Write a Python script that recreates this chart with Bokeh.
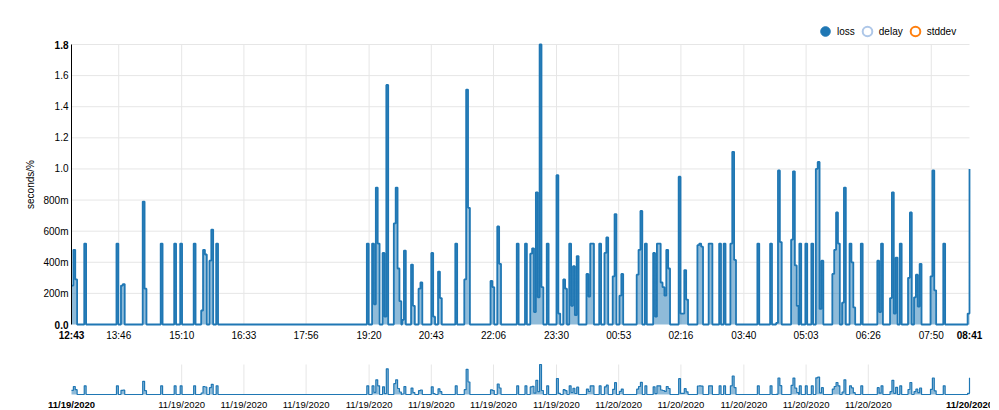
from bokeh.plotting import figure
from bokeh.models import (Range1d, FixedTicker, CustomJSTickFormatter, Label,
                          Legend, LegendItem, ColumnDataSource, LinearAxis)
from bokeh.layouts import column
from bokeh.embed import file_html
from bokeh.resources import INLINE

# ---------------- data ----------------
END_MIN = 1198          # 12:43 -> 08:41 (minutes since start)
STEP = 2.5              # sample length in minutes

burst_start = [0, 17, 60, 66, 95, 119, 137, 145, 163, 173, 184, 193,
               394, 401, 415, 430, 441, 453, 463, 480, 489, 512, 524, 559,
               568, 594, 605, 612, 634, 647, 656, 664, 687, 704, 711, 722,
               731, 754, 765, 776, 810, 835, 850, 864, 870, 879, 915, 932,
               940, 960, 971, 979, 987, 993, 1015, 1028, 1038, 1053, 1075,
               1092, 1105, 1116, 1124, 1146, 1163, 1195.5]
burst_levels = [
    [0.25, 0.48, 0.29], [0.52], [0.52], [0.25, 0.26], [0.79, 0.23],
    [0.52], [0.52], [0.52], [0.52], [0.09, 0.48, 0.45], [0.41, 0.61],
    [0.52],
    [0.52], [0.52, 0.13, 0.88, 0.52], [0.46, 0.05, 1.54],
    [0.65, 0.88, 0.36, 0.15], [0.03, 0.475], [0.385, 0.12], [0.23, 0.27],
    [0.46, 0.05], [0.34, 0.17], [0.52], [0.29, 1.51, 0.75], [0.28, 0.24],
    [0.63, 0.39], [0.52], [0.52], [0.455, 0.49, 0.08, 0.85, 0.175, 1.8, 0.24],
    [0.52], [0.96, 0.07], [0.29, 0.23], [0.52, 0.12, 0.375, 0.06, 0.44],
    [0.325, 0.18, 0.52, 0.52], [0.52], [0.46, 0.56], [0.31, 0.71],
    [0.185, 0.325], [0.32, 0.48, 0.73], [0.52],
    [0.46, 0.05, 0.52, 0.52, 0.27, 0.24, 0.185, 0.48, 0.36],
    [0.95, 0.07, 0.07, 0.35, 0.16], [0.51, 0.52, 0.5], [0.52, 0.52],
    [0.52], [0.52], [0.52, 1.11, 0.415], [0.52], [0.52],
    [0.01, 0.99, 0.53], [0.545, 0.985, 0.38, 0.12], [0.52], [0.52], [0.52],
    [1.0, 1.045, 0.1, 0.41], [0.325, 0.48, 0.72, 0.52], [0.14, 0.88],
    [0.52, 0.4, 0.11], [0.52], [0.41, 0.08, 0.52], [0.17, 0.85, 0.07, 0.43],
    [0.52], [0.30, 0.72], [0.175, 0.32, 0.115, 0.39], [0.31, 0.99, 0.22],
    [0.52], [0.07, 1.0]]

main_tick_min = [63, 147, 230, 313, 397, 480, 563, 647, 730, 813, 897, 980, 1063, 1147]
main_tick_lbl = ["13:46", "15:10", "16:33", "17:56", "19:20", "20:43", "22:06",
                 "23:30", "00:53", "02:16", "03:40", "05:03", "06:26", "07:50"]
main_first, main_last = "12:43", "08:41"

ov_tick_min = [147, 230, 313, 397, 480, 563, 647, 730, 813, 897, 980, 1063]
ov_tick_lbl = ["11/19/2020"] * 7 + ["11/20/2020"] * 5
ov_first, ov_last = "11/19/2020", "11/20/2020"

Y_MAX = 1.8
y_ticks = [0.0, 0.2, 0.4, 0.6, 0.8, 1.0, 1.2, 1.4, 1.6, 1.8]
series_names = ["loss", "delay", "stddev"]

# ------------- build step series -------------
xs, ys = [], []
for s, lv in zip(burst_start, burst_levels):
    if not xs and s > 0:
        xs.append(0); ys.append(0)
    for i, v in enumerate(lv):
        xs.append(s + i * STEP); ys.append(v)
    e = s + len(lv) * STEP
    if e < END_MIN:
        xs.append(e); ys.append(0)

# ------------- layout constants (pixels) -------------
FIG_W = 990
X0_PX, X1_PX = 71, 969                     # plot-area left / right
MAIN_H, MAIN_TOP, MAIN_BASE = 354, 44, 324
OV_H, OV_TOP, OV_BASE = 56, 10, 40
mpp = END_MIN / (X1_PX - X0_PX)

def x_range():
    return Range1d(-X0_PX * mpp, END_MIN + (FIG_W - X1_PX) * mpp)

def y_range(h, top, base):
    vpp = Y_MAX / (base - top)
    return Range1d(-(h - base) * vpp, Y_MAX + top * vpp)

FONT = "Liberation Sans"
FS = "10px"
FS_OV = "9.5px"
BLUE = "#1f77b4"
GRID = "#e6e6e6"
TXT = "#000000"

src = ColumnDataSource(dict(x=xs, y=ys))

def tick_fmt(t, l):
    return CustomJSTickFormatter(args=dict(t=t, l=l),
        code="const i = t.indexOf(tick); return i < 0 ? '' : l[i];")

def bold_label(fig, size=FS, **kw):
    fig.add_layout(Label(text_font=FONT, text_font_size=size, text_font_style="bold",
                         text_color=TXT, **kw))

def base_fig(h, yr):
    f = figure(width=FIG_W, height=h, x_range=x_range(), y_range=yr,
               output_backend="svg", toolbar_location=None, title=None,
               x_axis_location=None, y_axis_location=None,
               min_border=0, min_border_left=0, min_border_right=0,
               min_border_top=0, min_border_bottom=0)
    f.outline_line_color = None
    f.grid.visible = False
    return f

def ax_style(size):
    return dict(axis_line_color=None, major_tick_line_color=None, minor_tick_line_color=None,
                major_tick_out=0, major_tick_in=0, minor_tick_out=0, minor_tick_in=0,
                major_label_text_font=FONT, major_label_text_font_size=size,
                major_label_text_color=TXT)

# ------------- main chart -------------
p = base_fig(MAIN_H, y_range(MAIN_H, MAIN_TOP, MAIN_BASE))
p.segment(x0=main_tick_min, y0=0, x1=main_tick_min, y1=Y_MAX, line_color=GRID, line_width=1)
p.segment(x0=0, y0=y_ticks[1:], x1=END_MIN, y1=y_ticks[1:], line_color=GRID, line_width=1)
p.varea_step(x="x", y1=0, y2="y", source=src, step_mode="after",
             fill_color=BLUE, fill_alpha=0.5)
p.step(x="x", y="y", source=src, mode="after", line_color=BLUE, line_width=1.8)

xax = LinearAxis(fixed_location=0, ticker=FixedTicker(ticks=main_tick_min),
                 formatter=tick_fmt(main_tick_min, main_tick_lbl),
                 major_label_standoff=5, **ax_style(FS))
p.add_layout(xax, "below")

yax = LinearAxis(fixed_location=0, bounds=(0, Y_MAX), ticker=FixedTicker(ticks=y_ticks),
                 formatter=CustomJSTickFormatter(code="""
                     if (tick < 1e-6 || tick > 1.79) return '';
                     if (tick < 0.999) return Math.round(tick * 1000) + 'm';
                     return tick.toFixed(1);"""),
                 major_label_standoff=3,
                 axis_label="seconds/%", axis_label_standoff=4,
                 axis_label_text_font=FONT, axis_label_text_font_size=FS,
                 axis_label_text_font_style="normal", axis_label_text_color=TXT,
                 **ax_style(FS))
yax.axis_line_color = TXT
yax.axis_line_width = 1
p.add_layout(yax, "left")

bold_label(p, x=0, y=0, y_offset=-5, text=main_first, text_align="center", text_baseline="top")
bold_label(p, x=END_MIN, y=0, y_offset=-5, text=main_last, text_align="center", text_baseline="top")
bold_label(p, x=0, y=Y_MAX, x_offset=-3, text="1.8", text_align="right", text_baseline="middle")
bold_label(p, x=0, y=0.0, x_offset=-3, text="0.0", text_align="right", text_baseline="middle")

# legend (off-screen NaN renderers carry the legend glyphs)
nan = float("nan")
empty = ColumnDataSource(dict(x=[nan], y=[nan]))
r_loss = p.scatter("x", "y", source=empty, marker="circle", fill_color=BLUE, line_color=BLUE)
r_delay = p.scatter("x", "y", source=empty, marker="circle", fill_color=None,
                    line_color="#aec7e8", line_width=2)
r_std = p.scatter("x", "y", source=empty, marker="circle", fill_color=None,
                  line_color="#ff7f0e", line_width=2)
legend = Legend(items=[LegendItem(label=n, renderers=[r]) for n, r in
                       zip(series_names, [r_loss, r_delay, r_std])],
                orientation="horizontal", location=(813, 311),
                glyph_width=24, glyph_height=24, label_standoff=0, spacing=0,
                padding=0, margin=0, label_width=0, label_height=12,
                border_line_color=None, background_fill_alpha=0,
                label_text_font=FONT, label_text_font_size=FS,
                label_text_color=TXT)
p.add_layout(legend)

# ------------- overview chart -------------
o = base_fig(OV_H, y_range(OV_H, OV_TOP, OV_BASE))
o.segment(x0=ov_tick_min, y0=0, x1=ov_tick_min, y1=Y_MAX, line_color=GRID, line_width=1)
o.varea_step(x="x", y1=0, y2="y", source=src, step_mode="after",
             fill_color=BLUE, fill_alpha=0.5)
o.step(x="x", y="y", source=src, mode="after", line_color=BLUE, line_width=1.2)
oax = LinearAxis(fixed_location=0, ticker=FixedTicker(ticks=ov_tick_min),
                 formatter=tick_fmt(ov_tick_min, ov_tick_lbl),
                 major_label_standoff=4, **ax_style(FS_OV))
o.add_layout(oax, "below")
bold_label(o, size=FS_OV, x=0, y=0, y_offset=-4, text=ov_first,
           text_align="center", text_baseline="top")
bold_label(o, size=FS_OV, x=END_MIN, y=0, y_offset=-4, text=ov_last,
           text_align="center", text_baseline="top")

layout = column(p, o)
open("out.html", "w").write(file_html(layout, INLINE))
